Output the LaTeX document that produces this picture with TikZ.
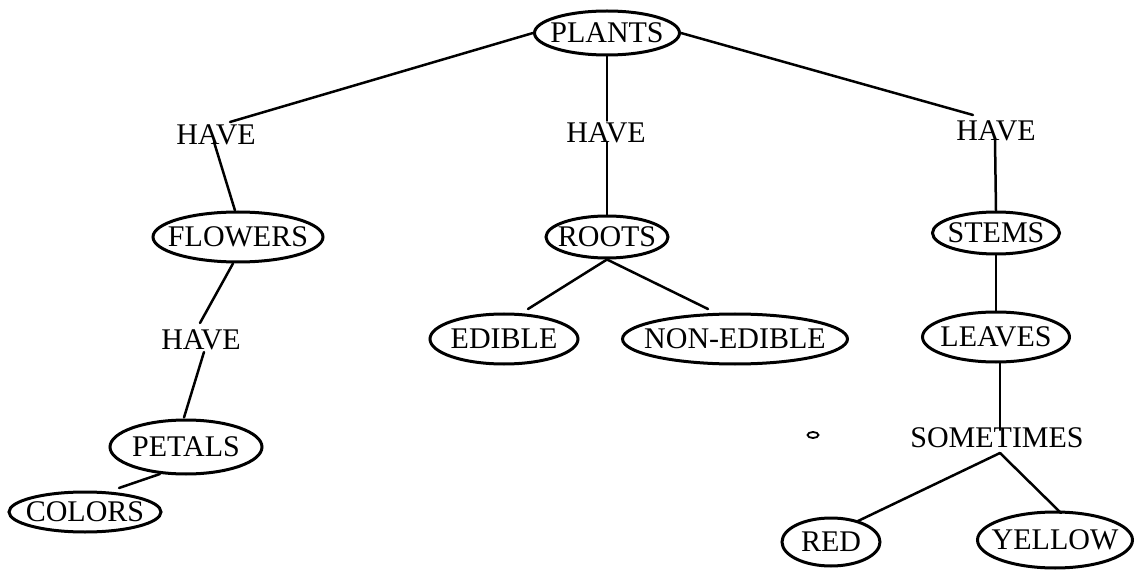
\documentclass[tikz,border=0pt]{standalone}
\usepackage{fontspec}
\setmainfont{Liberation Serif}
\usetikzlibrary{shapes.geometric,calc}

% zero-width label box, so that each oval keeps the size it is given
\newcommand{\inoval}[1]{\makebox[0pt][c]{#1}}

\tikzset{
  word/.style={font=\fontsize{30}{31}\selectfont, inner sep=0pt},
  oval/.style={word, ellipse, draw, line width=3pt},
  link/.style={line width=2.5pt, line cap=round}
}

\begin{document}
\begin{tikzpicture}[x=1pt,y=-1pt]
  \useasboundingbox (0,0) rectangle (1136,572);

  % concepts
  \node[oval, minimum width=145pt, minimum height=44pt] (plants) at (607,33) {\inoval{PLANTS}};
  \node[oval, minimum width=170pt, minimum height=50pt] (flowers) at (238,237) {\inoval{FLOWERS}};
  \node[oval, minimum width=152pt, minimum height=54pt] (petals) at (186,447) {\inoval{PETALS}};
  \node[oval, minimum width=152pt, minimum height=40pt] (colors) at (85,512) {\inoval{COLORS}};
  \node[oval, minimum width=122pt, minimum height=42pt] (roots) at (607,237) {\inoval{ROOTS}};
  \node[oval, minimum width=148pt, minimum height=50pt] (edible) at (504,339) {\inoval{EDIBLE}};
  \node[oval, minimum width=225pt, minimum height=50pt] (nonedible) at (735,339) {\inoval{NON-EDIBLE}};
  \node[oval, minimum width=127pt, minimum height=42pt] (stems) at (996,233) {\inoval{STEMS}};
  \node[oval, minimum width=147pt, minimum height=50pt] (leaves) at (996,337) {\inoval{LEAVES}};
  \node[oval, minimum width=98pt, minimum height=48pt] (red) at (831,542) {\inoval{RED}};
  \node[oval, minimum width=155pt, minimum height=56pt] (yellow) at (1055,540) {\inoval{YELLOW}};

  % linking words
  \node[word] (h1) at (216,135) {HAVE};
  \node[word] (h2) at (201,340) {HAVE};
  \node[word] (h3) at (606,133) {HAVE};
  \node[word] (h4) at (996,131) {HAVE};
  \node[word] (some) at (997,438) {SOMETIMES};

  % left branch
  \draw[link] (plants.west) -- ($(h1.center)+(14,-13)$);
  \draw[link] ($(h1.center)+(-2,7)$) -- ($(flowers.north)+(-3,0)$);
  \draw[link] ($(flowers.south)+(-5,0)$) -- ($(h2.center)+(-1,-17)$);
  \draw[link] ($(h2.center)+(3,12)$) -- ($(petals.north)+(-2,-1)$);
  \draw[link] ($(petals.center)+(-26,27)$) -- ($(colors.center)+(34,-24)$);

  % middle branch
  \draw[link] (plants.south) -- ($(h3.north)+(1,-2)$);
  \draw[link] ($(h3.center)+(1,9)$) -- (roots.north);
  \draw[link] (roots.south) -- ($(edible.center)+(24,-30)$);
  \draw[link] (roots.south) -- ($(nonedible.center)+(-27,-30)$);

  % right branch
  \draw[link] (plants.east) -- ($(h4.center)+(-23,-16)$);
  \draw[link] ($(h4.center)+(-1,9)$) -- (stems.north);
  \draw[link] (stems.south) -- (leaves.north);
  \draw[link] ($(leaves.south)+(4,0)$) -- ($(some.center)+(3,-8)$);
  \draw[link] ($(some.center)+(3,15)$) -- ($(red.center)+(27,-21)$);
  \draw[link] ($(some.center)+(3,15)$) -- ($(yellow.center)+(6,-27)$);

  % small loose ring
  \draw[line width=1.8pt] (813,435) ellipse [x radius=5.5, y radius=3];
\end{tikzpicture}
\end{document}
